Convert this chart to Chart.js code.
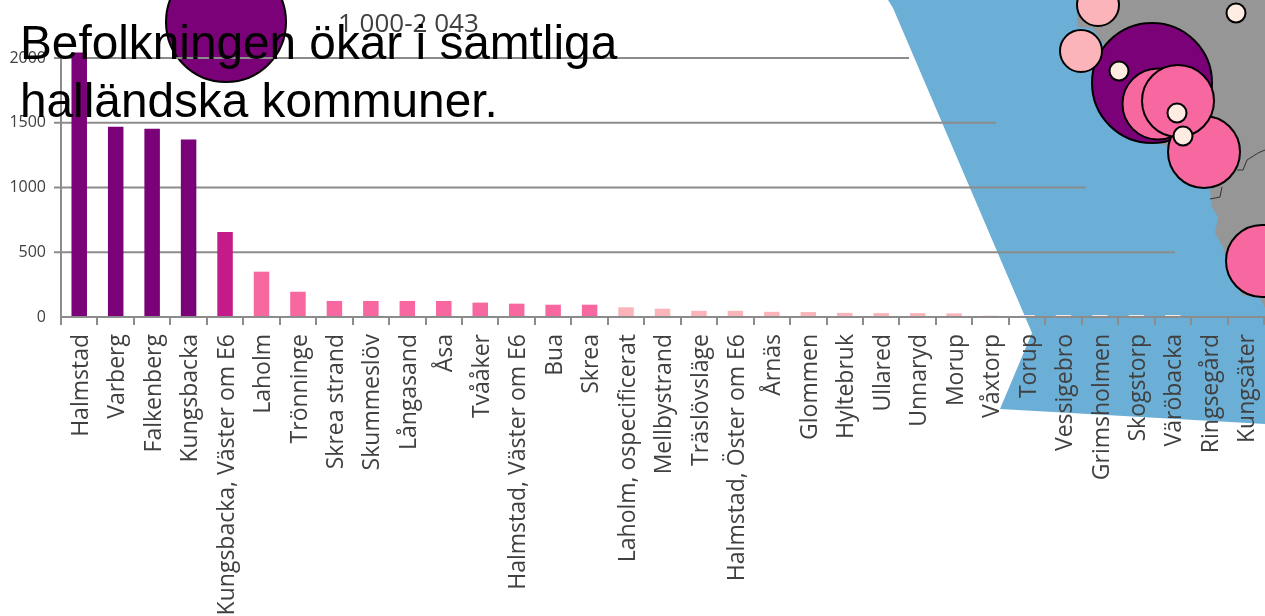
<!DOCTYPE html>
<html lang="sv"><head><meta charset="utf-8">
<script src="https://cdn.jsdelivr.net/npm/chart.js@4"></script>
<style>
html,body{margin:0;padding:0;background:#fff;overflow:hidden}
#wrap{position:relative;width:1265px;height:616px;overflow:hidden}
canvas{position:absolute;left:0;top:0}
#title{position:absolute;left:20px;top:14px;font:47.75px/58px "Liberation Sans",Arial,sans-serif;color:#000;white-space:nowrap;margin:0;font-weight:400}
#legendText{position:absolute;left:338px;top:5px;font:26px/34px "Open Sans",sans-serif;color:#404040;white-space:nowrap;transform-origin:left center}
</style></head><body>
<div id="wrap"><canvas id="c" width="1265" height="616"></canvas>
<div id="legendText">1 000-2 043</div>
<h1 id="title">Befolkningen ökar i samtliga<br>halländska kommuner.</h1></div>
<script>
const categories=["Halmstad","Varberg","Falkenberg","Kungsbacka","Kungsbacka, Väster om E6","Laholm","Trönninge","Skrea strand","Skummeslöv","Långasand","Åsa","Tvååker","Halmstad, Väster om E6","Bua","Skrea","Laholm, ospecificerat","Mellbystrand","Träslövsläge","Halmstad, Öster om E6","Årnäs","Glommen","Hyltebruk","Ullared","Unnaryd","Morup","Våxtorp","Torup","Vessigebro","Grimsholmen","Skogstorp","Väröbacka","Ringsegård","Kungsäter"];
const values=[2043,1470,1454,1370,656,350,195,124,124,124,124,111,103,95,95,75,64,48,48,40,38,32,30,30,28,15,15,15,15,15,15,0,0];
const yTicks=[0,500,1000,1500,2000];
const gridValues=[2000,1500,1000,500];
const gridEnds=[909,996,1086,1175];
const seaX=[888,1265,1265,1000,1032,893,888];
const seaY=[0,0,424,409,333,8,0];
const landX=[1077,1077,1078,1092,1103,1150,1237,1210,1212,1218,1215,1223,1225,1242,1260,1265,1265,1077];
const landY=[0,20,27,28,43,140,170,190,207,217,233,247,255,295,298,308,0,0];
const borderAX=[1237,1243,1247,1258,1265];
const borderAY=[170,170,160,153,150];
const borderBX=[1222,1220,1210];
const borderBY=[187,197,199];
const circleX=[226,1098,1236,1152,1204,1158,1178,1081,1119,1177,1183,1262];
const circleY=[22,5,13,83,152,104,101,51,71,113,136,261];
const circleR=[60,21,9.5,60,36,35.5,36,21,9.5,9.5,9.5,36];
const circleColors=["#7a0177","#fbb4b9","#feebe2","#7a0177","#f768a1","#f768a1","#f768a1","#fbb4b9","#feebe2","#feebe2","#feebe2","#f768a1"];
const barColor=v=>v>=1000?"#7a0177":v>=500?"#c51b8a":v>=90?"#f768a1":v>=25?"#fbb4b9":"#feebe2";
const GREY="#8c8c8c",TXT="#404040";

const mapPlugin={id:"mapBase",beforeDatasetsDraw(ch){
  const {ctx,scales:{mx,my}}=ch;
  const poly=(xs,ys,fill,stroke)=>{ctx.beginPath();xs.forEach((x,i)=>{const px=mx.getPixelForValue(x),py=my.getPixelForValue(ys[i]);i?ctx.lineTo(px,py):ctx.moveTo(px,py)});
    if(fill){ctx.closePath();ctx.fillStyle=fill;ctx.fill()} if(stroke){ctx.strokeStyle=stroke;ctx.lineWidth=1;ctx.stroke()}};
  ctx.save();
  poly(seaX,seaY,"#6baed6");
  poly(landX,landY,"#969696");
  poly(borderAX,borderAY,null,"#333");
  poly(borderBX,borderBY,null,"#333");
  ctx.restore();
}};

const gridLine=(data)=>({type:"line",xAxisID:"mx",yAxisID:"y",order:2,clip:false,data,borderColor:GREY,borderWidth:2,pointRadius:0,fill:false});
const gridSets=gridValues.map((v,i)=>gridLine([{x:54,y:v},{x:gridEnds[i],y:v}]));
const axisSet=gridLine([{x:61,y:0},{x:61,y:2000}]);

new Chart(document.getElementById("c"),{
  data:{labels:categories,datasets:[
    {type:"bar",xAxisID:"x",yAxisID:"y",order:1,data:values,backgroundColor:values.map(barColor),grouped:false,maxBarThickness:15.5},
    ...gridSets,axisSet,
    {type:"bubble",xAxisID:"mx",yAxisID:"my",order:3,clip:false,data:circleX.map((x,i)=>({x,y:circleY[i],r:circleR[i]})),
      backgroundColor:circleColors,borderColor:"#000",borderWidth:2}
  ]},
  plugins:[mapPlugin],
  options:{responsive:false,animation:false,events:[],
    layout:{autoPadding:false,padding:{top:0,right:1,left:0,bottom:0}},
    plugins:{legend:{display:false},title:{display:false},tooltip:{enabled:false}},
    scales:{
      x:{type:"category",offset:true,afterFit(s){s.height=299;s.paddingLeft=0;s.paddingRight=0},
        grid:{z:1,drawOnChartArea:false,drawTicks:true,tickLength:8,color:GREY,lineWidth:2},
        border:{z:1,color:GREY,width:2},
        ticks:{z:1,autoSkip:false,minRotation:90,maxRotation:90,labelOffset:2,color:TXT,padding:9,font:{family:"Open Sans",size:23}}},
      y:{type:"linear",min:0,max:2447.9,afterFit(s){s.width=61;s.paddingTop=0;s.paddingBottom=0},
        afterBuildTicks(s){s.ticks=yTicks.map(value=>({value}))},
        grid:{drawOnChartArea:false,drawTicks:false},
        border:{display:false},
        ticks:{z:1,color:TXT,padding:15,font:{family:"Open Sans",size:16},callback:v=>String(v)}},
      mx:{type:"linear",display:false,min:61,max:1264},
      my:{type:"linear",display:false,min:0,max:317,reverse:true}
    }
  }
});
</script></body></html>
